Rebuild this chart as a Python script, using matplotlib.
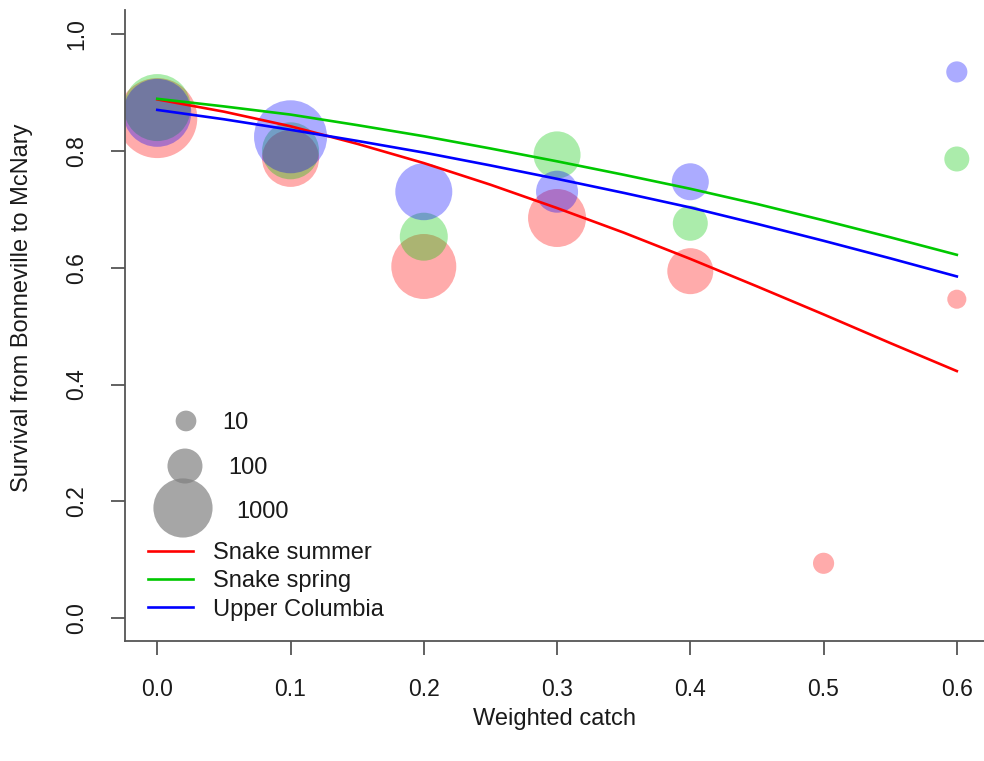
import numpy as np
import matplotlib.pyplot as plt

plt.rcParams['font.family'] = ['Liberation Sans', 'DejaVu Sans']

# observed points: weighted catch, survival, number of fish
catch_summer = [0.0, 0.1, 0.2, 0.3, 0.4, 0.5, 0.6]
surv_summer = [0.856, 0.787, 0.602, 0.685, 0.594, 0.094, 0.546]
n_summer = [3760, 850, 1510, 917, 332, 11, 7]

catch_spring = [0.0, 0.1, 0.2, 0.3, 0.4, 0.6]
surv_spring = [0.874, 0.800, 0.653, 0.793, 0.676, 0.786]
n_spring = [1727, 850, 400, 365, 100, 23]

catch_upper = [0.0, 0.1, 0.2, 0.3, 0.4, 0.6]
surv_upper = [0.865, 0.824, 0.730, 0.730, 0.747, 0.935]
n_upper = [1840, 2516, 850, 223, 128, 11]

# fitted curves
fit_x = [0.0, 0.05, 0.1, 0.15, 0.2, 0.25, 0.3, 0.35, 0.4, 0.45, 0.5, 0.55, 0.6]
fit_summer = [0.888, 0.867, 0.842, 0.812, 0.779, 0.742, 0.702, 0.660, 0.615, 0.568, 0.520, 0.471, 0.423]
fit_spring = [0.889, 0.876, 0.862, 0.844, 0.825, 0.804, 0.782, 0.759, 0.735, 0.709, 0.681, 0.652, 0.622]
fit_upper = [0.870, 0.854, 0.836, 0.817, 0.797, 0.775, 0.752, 0.728, 0.703, 0.675, 0.646, 0.616, 0.585]

size_keys = [10, 100, 1000]
groups = ['Snake summer', 'Snake spring', 'Upper Columbia']
colors = ['#ff0000', '#00c800', '#0000ff']


def msize(n):
    # bubble diameter (px at 100 dpi) -> scatter area in pt^2
    d = 20.7 * (np.asarray(n) / 10.0) ** 0.228
    return (d * 0.72) ** 2


fig = plt.figure(figsize=(9.84, 7.61), dpi=100)
ax = fig.add_axes([125.3 / 984, 120 / 761, 863.5 / 984, 631 / 761])

pts = [(catch_summer, surv_summer, n_summer),
       (catch_spring, surv_spring, n_spring),
       (catch_upper, surv_upper, n_upper)]
for (cx, sy, nn), c in zip(pts, colors):
    ax.scatter(cx, sy, s=msize(nn), color=c, alpha=0.33, edgecolors='none', zorder=2)

handles = []
for fy, c, g in zip([fit_summer, fit_spring, fit_upper], colors, groups):
    ln, = ax.plot(fit_x, fy, color=c, lw=1.9, zorder=3, label=g)
    handles.append(ln)

ax.set_xlim(-0.024, 0.624)
ax.set_ylim(-0.039, 1.041)
ax.set_xticks(np.arange(0, 0.61, 0.1))
ax.set_xticklabels(['%.1f' % v for v in np.arange(0, 0.61, 0.1)])
ax.set_yticks(np.arange(0, 1.01, 0.2))
ax.set_yticklabels(['%.1f' % v for v in np.arange(0, 1.01, 0.2)])

for s in ['top', 'right']:
    ax.spines[s].set_visible(False)
for s in ['left', 'bottom']:
    ax.spines[s].set_color('#555555')
    ax.spines[s].set_linewidth(1.3)
ax.tick_params(direction='out', length=10, width=1.3, color='#555555',
               labelsize=16.5, labelcolor='#1a1a1a')
ax.tick_params(axis='x', pad=17)
ax.tick_params(axis='y', pad=17, labelrotation=90)
for t in ax.get_yticklabels():
    t.set_va('center')

ax.set_xlabel('Weighted catch', fontsize=17, va='center', color='#1a1a1a')
ax.xaxis.set_label_coords(0.497, -0.124)
ax.set_ylabel('Survival from Bonneville to McNary', fontsize=17, va='center',
              color='#1a1a1a')
ax.yaxis.set_label_coords(-0.120, 0.528)

# bubble size key
key_x = [0.0703, 0.0691, 0.0668]
key_y = [0.3487, 0.2773, 0.2108]
lab_x = [0.112, 0.119, 0.129]
lab_y = [0.3455, 0.2742, 0.2044]
for i, n in enumerate(size_keys):
    ax.scatter([key_x[i]], [key_y[i]], s=msize(n), color='#808080', alpha=0.7,
               edgecolors='none', transform=ax.transAxes, clip_on=False, zorder=4)
    ax.text(lab_x[i], lab_y[i], str(n), transform=ax.transAxes, fontsize=17,
            va='center', ha='left', color='#1a1a1a')

ax.legend(handles=handles, loc='upper left', bbox_to_anchor=(0.0263, 0.157),
          frameon=False, fontsize=17, handlelength=1.9, handletextpad=0.85,
          labelspacing=0.27, borderpad=0, borderaxespad=0, labelcolor='#1a1a1a')

fig.savefig('out.png', dpi=100)
